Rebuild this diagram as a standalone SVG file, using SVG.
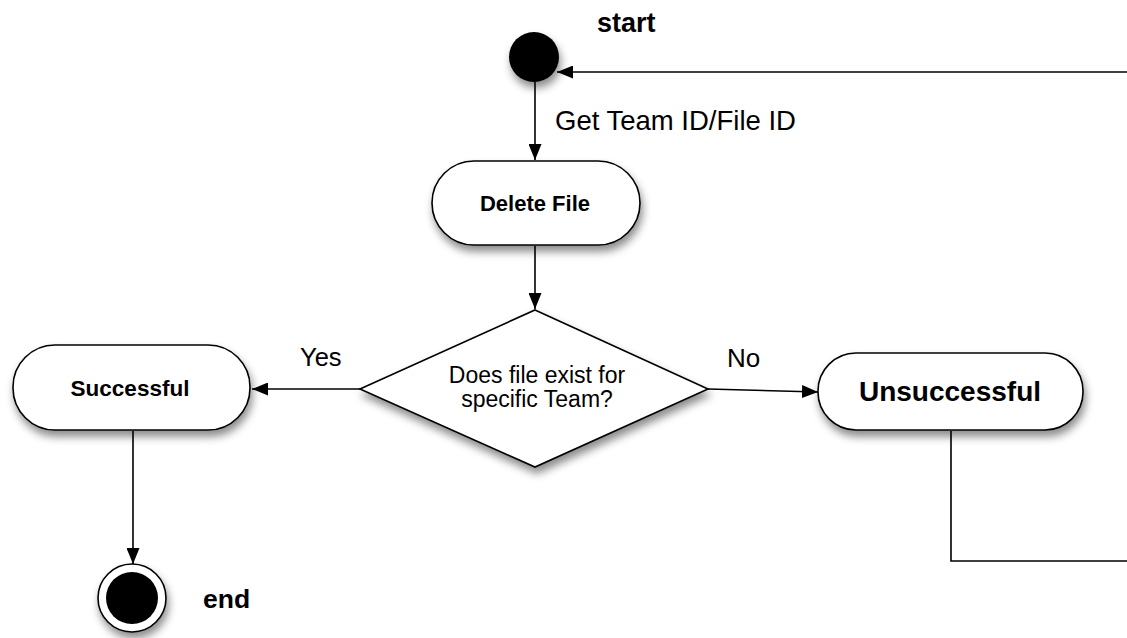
<svg xmlns="http://www.w3.org/2000/svg" width="1127" height="638" viewBox="0 0 1127 638">
<style>
.node{fill:#fff;stroke:#000;stroke-width:1.6;filter:url(#sh)}
.edge{fill:none;stroke:#000;stroke-width:1.6}
.b{font-family:"Liberation Sans",Arial,sans-serif;font-weight:bold;fill:#000}
.r{font-family:"Liberation Sans",Arial,sans-serif;fill:#000}
</style>
<defs>
<filter id="sh" x="-20%" y="-20%" width="150%" height="160%">
<feDropShadow dx="2" dy="6" stdDeviation="4" flood-color="#000" flood-opacity="0.45"/>
</filter>
<marker id="ar" viewBox="0 0 16 13" refX="16" refY="6.5" markerWidth="16" markerHeight="13" markerUnits="userSpaceOnUse" orient="auto">
<path d="M0,0 L16,6.5 L0,13 Z" fill="#000"/>
</marker>
</defs>
<rect width="1127" height="638" fill="#fff"/>
<g id="connectors">
<path class="edge" d="M1127,72 L557,72" marker-end="url(#ar)"/>
<path class="edge" d="M535,82 L535,160" marker-end="url(#ar)"/>
<path class="edge" d="M535,246 L535,309" marker-end="url(#ar)"/>
<path class="edge" d="M360,389 L252,389" marker-end="url(#ar)"/>
<path class="edge" d="M708,389 L818,392" marker-end="url(#ar)"/>
<path class="edge" d="M133,431 L133,564" marker-end="url(#ar)"/>
<path class="edge" d="M951,431 L951,561 L1127,561"/>
<text class="r" x="555" y="130" font-size="27.5">Get Team ID/File ID</text>
<text class="r" x="300" y="366" font-size="25.5">Yes</text>
<text class="r" x="727" y="367" font-size="26">No</text>
</g>
<g id="start">
<circle cx="534" cy="57" r="25" fill="#000" filter="url(#sh)"/>
<text class="b" x="597" y="32" font-size="27">start</text>
</g>
<g id="delete-file">
<rect class="node" x="432" y="161" width="208" height="84" rx="42"/>
<text class="b" x="535" y="211" font-size="22" text-anchor="middle">Delete File</text>
</g>
<g id="decision">
<polygon class="node" points="535,310 708,389 535,467 360,389"/>
<text class="r" x="537" y="383" font-size="23" text-anchor="middle">Does file exist for</text>
<text class="r" x="537" y="407" font-size="23" text-anchor="middle">specific Team?</text>
</g>
<g id="successful">
<rect class="node" x="13" y="345" width="237" height="85" rx="42"/>
<text class="b" x="130" y="396" font-size="22.5" text-anchor="middle">Successful</text>
</g>
<g id="unsuccessful">
<rect class="node" x="818" y="353" width="265" height="77" rx="38"/>
<text class="b" x="950" y="401" font-size="28" text-anchor="middle">Unsuccessful</text>
</g>
<g id="end">
<circle cx="132" cy="598" r="34" fill="#fff" stroke="#000" stroke-width="1.6" filter="url(#sh)"/>
<circle cx="132" cy="598" r="26" fill="#000"/>
<text class="b" x="203" y="608" font-size="26.5">end</text>
</g>
</svg>
